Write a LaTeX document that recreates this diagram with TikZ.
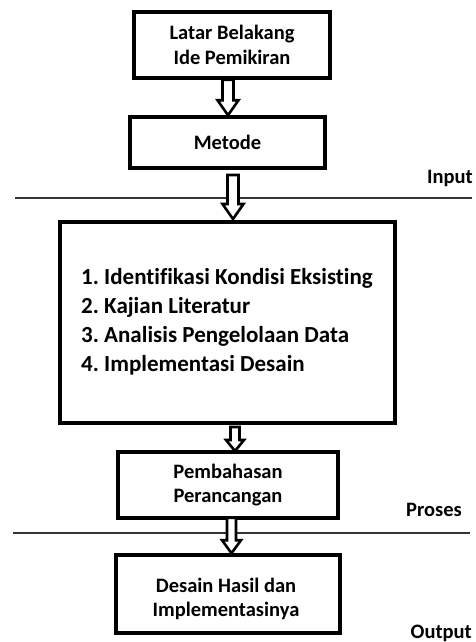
\documentclass[tikz,border=0pt]{standalone}
\usepackage{fontspec}
\setmainfont{Carlito}[Ligatures=NoCommon]
\usetikzlibrary{calc}
\frenchspacing
\tikzset{
  box/.style={draw=black, line width=3.6pt, fill=white, align=center, inner sep=0pt,
    font=\bfseries\fontsize{20.5}{24.5}\selectfont},
  boxtext/.style={align=center, inner sep=0pt, font=\bfseries\fontsize{20.5}{24.5}\selectfont},
  blockarrow/.style={draw=black, line width=2.6pt, fill=white, line join=miter},
  sepline/.style={draw=black!80, line width=1.3pt},
  phase/.style={font=\bfseries\fontsize{20.5}{22}\selectfont, inner sep=0pt},
}
\begin{document}
\begin{tikzpicture}[x=1pt,y=-1pt]
\useasboundingbox (0,0) rectangle (475,642);
\node[box, minimum width=196pt, minimum height=66pt] (b1) at (232,45) {Latar Belakang\\Ide Pemikiran};
\node[box, minimum width=195pt, minimum height=51pt] (b2) at (227.5,142.5) {Metode};
\node[box, minimum width=335pt, minimum height=201pt] (b3) at (227.5,322.5) {};
\node[anchor=west, align=left, inner sep=0pt, font=\bfseries\fontsize{23}{29}\selectfont] (list) at (81,322) {1. Identifikasi Kondisi Eksisting\\2. Kajian Literatur\\3. Analisis Pengelolaan Data\\4. Implementasi Desain};
\node[box, minimum width=220pt, minimum height=66pt] (b4) at (228,485) {Pembahasan\\Perancangan};
\node[box, minimum width=224pt, minimum height=78pt] (b5) at (228,594) {};
\node[boxtext] (b5t) at (226,599) {Desain Hasil dan\\Implementasinya};

\coordinate (l1a) at (15,198); \coordinate (l1b) at (472,198);
\coordinate (l2a) at (13,533); \coordinate (l2b) at (470,533);
\draw[sepline] (l1a) -- (l1b);
\draw[sepline] (l2a) -- (l2b);

\node[phase, anchor=east] (in) at (473,178) {Input};
\node[phase, anchor=east] (pr) at (462,510) {Proses};
\node[phase, anchor=east] (out) at (472,633) {Output};

\path let \p1=(b1.south), \p2=(b2.north) in
  [blockarrow] (222.5pt,\y1) -- (233.5pt,\y1) -- (233.5pt,\y2+15pt) -- (238.5pt,\y2+15pt)
  -- (228pt,\y2) -- (217.5pt,\y2+15pt) -- (222.5pt,\y2+15pt) -- cycle;
\coordinate (a2s) at (233,175);
\coordinate (a2e) at (233,219);
\path let \p1=(a2s), \p2=(a2e) in
  [blockarrow] (\x1-5.5pt,\y1) -- (\x1+5.5pt,\y1) -- (\x1+5.5pt,\y2+15pt) -- (\x1+10.5pt,\y2+15pt)
  -- (\x1,\y2) -- (\x1-10.5pt,\y2+15pt) -- (\x1-5.5pt,\y2+15pt) -- cycle;
\coordinate (a3s) at (235,427);
\coordinate (a3e) at (235,451);
\path let \p1=(a3s), \p2=(a3e) in
  [blockarrow] (\x1-4.5pt,\y1) -- (\x1+4.5pt,\y1) -- (\x1+4.5pt,\y2+11pt) -- (\x1+9pt,\y2+11pt)
  -- (\x1,\y2) -- (\x1-9pt,\y2+11pt) -- (\x1-4.5pt,\y2+11pt) -- cycle;
\path let \p1=(b4.south), \p2=(b5.north) in
  [blockarrow] (227pt,\y1+2pt) -- (236pt,\y1+2pt) -- (236pt,\y2+13pt) -- (241pt,\y2+13pt)
  -- (231.5pt,\y2) -- (222pt,\y2+13pt) -- (227pt,\y2+13pt) -- cycle;
\end{tikzpicture}
\end{document}
